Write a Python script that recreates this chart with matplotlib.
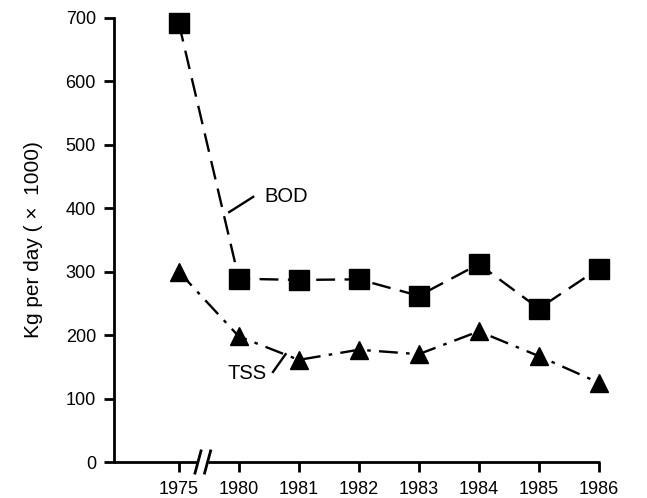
import matplotlib
matplotlib.use("Agg")
import matplotlib.pyplot as plt

plt.rcParams['font.family'] = ['Liberation Sans', 'DejaVu Sans']

years = ['1975', '1980', '1981', '1982', '1983', '1984', '1985', '1986']
bod = [692, 289, 287, 288, 262, 312, 242, 305]
tss = [300, 198, 161, 177, 170, 206, 167, 125]
yticks = [0, 100, 200, 300, 400, 500, 600, 700]

xs = list(range(len(years)))

fig = plt.figure(figsize=(6.47, 4.98), dpi=100)
ax = fig.add_axes([114/647, 36/498, (600-114)/647, (462-18)/498])

ax.plot(xs, bod, color='black', lw=1.7, dashes=(8, 4), marker='s', ms=15,
        mfc='black', mec='black', clip_on=False, zorder=3)
ax.plot(xs, tss, color='black', lw=1.7, dashes=(8, 3.5, 1.5, 3.5), marker='^', ms=13,
        mfc='black', mec='black', clip_on=False, zorder=3)

ax.set_xlim(-1.08, 7.02)
ax.set_ylim(0, 700)
ax.set_xticks(xs)
ax.set_xticklabels(years)
ax.set_yticks(yticks)
ax.tick_params(direction='out', length=7, width=2, labelsize=13)
ax.tick_params(axis='x', pad=7)
ax.tick_params(axis='y', pad=6)

for s in ['top', 'right', 'bottom']:
    ax.spines[s].set_visible(False)
ax.spines['left'].set_linewidth(2)

# x axis drawn in two pieces with a break mark
tr = ax.get_xaxis_transform()
ax.plot([-1.08, 0.32], [0, 0], color='black', lw=2, transform=tr, clip_on=False, solid_capstyle='butt')
ax.plot([0.48, 7.02], [0, 0], color='black', lw=2, transform=tr, clip_on=False, solid_capstyle='butt')
ax.plot([0.27, 0.37], [-0.025, 0.025], color='black', lw=2, transform=tr, clip_on=False)
ax.plot([0.43, 0.53], [-0.025, 0.025], color='black', lw=2, transform=tr, clip_on=False)

ax.set_ylabel('Kg per day ( \u00d7  1000)', fontsize=15, labelpad=16)

# series labels with leader lines
ax.plot([0.84, 1.24], [394, 418], color='black', lw=1.7)
ax.text(1.42, 418, 'BOD', fontsize=14.5, va='center', ha='left')
ax.plot([1.57, 1.78], [142, 170], color='black', lw=1.7)
ax.text(1.47, 140, 'TSS', fontsize=14.5, va='center', ha='right')

fig.savefig('out.png', dpi=100)
